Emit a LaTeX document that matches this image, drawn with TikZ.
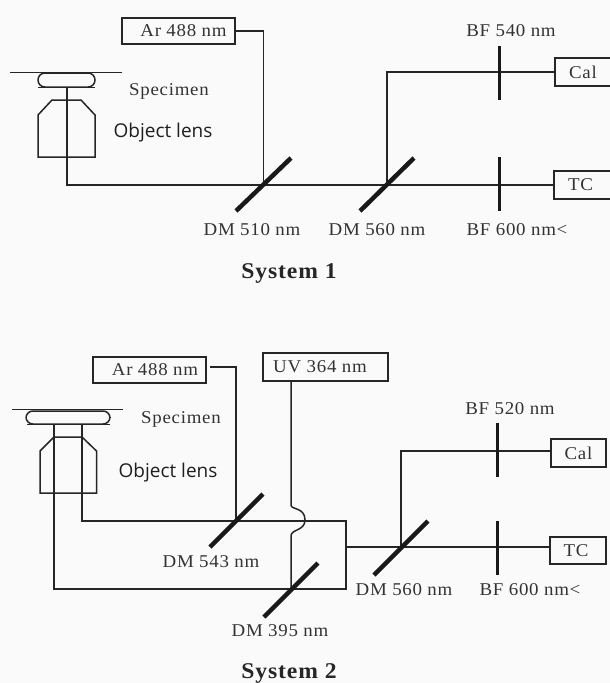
\documentclass[tikz,border=0pt]{standalone}
\usepackage{fontspec}
\setmainfont[FakeStretch=1.05,LetterSpace=4]{Liberation Serif}
\newfontfamily\lensfont{Open Sans}
\begin{document}
\begin{tikzpicture}[x=1pt,y=-1pt,
  beam/.style={line width=1.5pt,draw=black!85},
  mirror/.style={line width=4.5pt,draw=black!90},
  filt/.style={line width=3pt,draw=black!90},
  box/.style={draw=black!85,line width=1.5pt,inner sep=0pt,text=black!80,font=\fontsize{18}{20}\selectfont},
  lab/.style={anchor=base,inner sep=0pt,text=black!80,font=\fontsize{18}{20}\selectfont},
  lens/.style={anchor=base,inner sep=0pt,text=black!88,font=\lensfont\fontsize{19}{22}\selectfont},
  heading/.style={anchor=base,inner sep=0pt,text=black!85,font=\bfseries\fontsize{22.5}{26}\selectfont},
  part/.style={draw=black!85,line width=1.5pt},
  oil/.style={draw=black!85,line width=1.5pt,rounded corners=6.9pt}]
\fill[black!2] (0,0) rectangle (610,683);
\useasboundingbox (0,0) rectangle (610,683);
% ---------- System 1
\node[box,minimum width=113,minimum height=26] (ar1) at (178.5,31) {\hspace*{10pt}\raisebox{-3pt}{Ar 488 nm}};
\node[box,minimum width=56,minimum height=28] (cal1) at (583,72) {\raisebox{-3pt}{Cal}};
\node[box,minimum width=57,minimum height=28] (tc1) at (582.5,185) {\raisebox{-2pt}{\hspace*{-4pt}TC}};
\coordinate (axis1) at (67,87);
\coordinate (corner1) at (67,185);
\coordinate (dm510) at (263.5,185);
\coordinate (dm560) at (387,185);
\coordinate (arc1) at (263.5,31);
\coordinate (calc1) at (387,72);
\coordinate (bfa1) at (499,72);
\coordinate (bfb1) at (499,185);
% specimen and lens
\draw[part] (10,72.5) -- (122,72.5);
\draw[oil] (38,73) rectangle (95,87);
\draw[part] (38,87.5) -- (95,87.5);
\draw[part] (38,157) -- (38,115) -- (52,100) -- (81,100) -- (95,115) -- (95,157) -- cycle;
% beams
\draw[beam] (axis1) -- (corner1) -- (tc1.west);
\draw[beam] (ar1.east) -- (arc1) -- (dm510);
\draw[beam] (dm560) -- (calc1) -- (cal1.west);
% mirrors and filters
\draw[mirror] (236,211) -- (291,158);
\draw[mirror] (360,211) -- (414,158);
\draw[filt] (bfa1) ++(0,-26) -- ++(0,54);
\draw[filt] (bfb1) ++(0,-28) -- ++(0,54);
% labels
\node[lab] (spec1) at (169,95) {Specimen};
\node[lens] (obj1) at (163,137) {Object lens};
\node[lab] (ldm510) at (252,235) {DM 510 nm};
\node[lab] (ldm560) at (377,235) {DM 560 nm};
\node[lab] (lbf600) at (517,235) {BF 600 nm<};
\node[lab] (lbf540) at (511,36) {BF 540 nm};
\node[heading] (sys1) at (289,278) {System 1};
% ---------- System 2
\node[box,minimum width=113,minimum height=26] (ar2) at (149.5,370) {\hspace*{11pt}\raisebox{-3pt}{Ar 488 nm}};
\node[box,minimum width=125,minimum height=28] (uv2) at (325.5,367) {\hspace*{-11pt}\raisebox{-3pt}{UV 364 nm}};
\node[box,minimum width=55,minimum height=28] (cal2) at (578.5,453) {\raisebox{-3pt}{Cal}};
\node[box,minimum width=56,minimum height=27] (tc2) at (578,550.5) {\raisebox{-2pt}{\hspace*{-4pt}TC}};
\coordinate (ar2out) at (210,367);
\coordinate (arc2) at (236,367);
\coordinate (dm543) at (236,521);
\coordinate (axisa) at (82,424);
\coordinate (cornera) at (82,521);
\coordinate (axisb) at (54,424);
\coordinate (cornerb) at (54,589);
\coordinate (dm395) at (291,589);
\coordinate (rightc) at (346,589);
\coordinate (rightt) at (346,521);
\coordinate (rightm) at (346,547);
\coordinate (dm560b) at (401,547);
\coordinate (calc2) at (401,451);
\coordinate (uvdown) at (291,505);
\coordinate (bumptop) at (305,520);
\coordinate (uvback) at (291,536);
% specimen and lens
\draw[part] (12,409.5) -- (123,409.5);
\draw[oil] (26,411) rectangle (110,424);
\draw[part] (27,424.5) -- (110,424.5);
\draw[part] (40,493) -- (40,451) -- (54,437) -- (82,437) -- (96.5,451) -- (96.5,493) -- cycle;
% beams
\draw[beam] (ar2out) -- (arc2) -- (dm543);
\draw[beam] (axisa) -- (cornera) -- (rightt) -- (rightc) -- (cornerb) -- (axisb);
\draw[beam] (uv2.south -| uvdown) -- (uvdown) .. controls (291,510) and (305,507) .. (bumptop) .. controls (305,531) and (291,529) .. (uvback) -- (dm395);
\draw[beam] (rightm) -- (rightm -| tc2.west);
\draw[beam] (dm560b) -- (calc2) -- (calc2 -| cal2.west);
% mirrors and filters
\draw[mirror] (210,547) -- (263,494);
\draw[mirror] (264,617) -- (318,563);
\draw[mirror] (374,575) -- (428,521);
\coordinate (bfa2) at (497,450);
\coordinate (bfb2) at (497,547);
\draw[filt] (bfa2) ++(0,-27) -- ++(0,54);
\draw[filt] (bfb2) ++(0,-26) -- ++(0,54);
% labels
\node[lab] (spec2) at (181,423) {Specimen};
\node[lens] (obj2) at (168,477) {Object lens};
\node[lab] (ldm543) at (211,567) {DM 543 nm};
\node[lab] (ldm395) at (280,636) {DM 395 nm};
\node[lab] (ldm560b) at (404,595) {DM 560 nm};
\node[lab] (lbf600b) at (530,595) {BF 600 nm<};
\node[lab] (lbf520) at (510,414) {BF 520 nm};
\node[heading] (sys2) at (289,678) {System 2};
\end{tikzpicture}
\end{document}
